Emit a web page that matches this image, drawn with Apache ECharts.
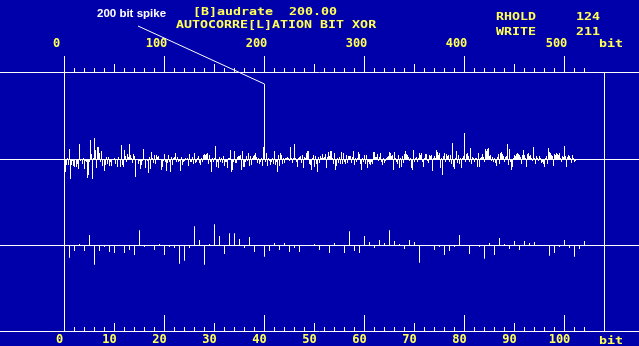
<!DOCTYPE html>
<html><head><meta charset="utf-8">
<script src="https://cdn.jsdelivr.net/npm/echarts@6/dist/echarts.min.js"></script>
<style>html,body{margin:0;padding:0;background:#0000AA}#c{width:639px;height:346px}</style>
</head><body><div id="c"></div>
<script>
// XOR autocorrelation per bit lag (lag 0..511)
const corrA = [0,-13,-6,1,-6,10,-20,-6,-2,-7,
 -8,0,-8,-5,-10,15,-2,0,-5,1,
 -10,-2,-3,-19,-16,-3,19,5,-20,1,
 21,9,-9,12,12,6,-3,8,-7,0,
 -12,-6,2,-5,2,-7,-3,-7,0,0,
 1,-5,0,-8,2,0,-8,14,-6,-8,
 9,3,-3,5,2,15,4,1,-4,5,
 3,-18,0,0,-5,-2,-10,-6,-2,10,
 0,-9,0,-2,-14,2,-10,7,1,-4,
 4,-5,4,2,3,0,0,-11,-8,-2,
 5,-3,-12,-4,4,-3,-13,2,-6,1,
 2,6,-3,2,-3,-2,-12,2,-6,-3,
 -2,1,-1,1,-7,5,-3,-3];
const corrB = [2,-5,6,-4,-3,1,3,-4,-6,1,-3,4,
 5,4,5,6,-5,4,-3,-13,1,-3,
 1,13,-8,-3,-9,2,-3,1,-4,3,
 -7,-3,-3,-9,1,1,9,-13,-11,-3,
 8,-4,-4,2,3,3,4,-11,8,-8,
 -8,-3,3,-2,6,-7,3,-6,1,3,
 4,6,2,-4,1,-5,-3,1,-7,12,
 75,-3,6,-7,1,-2,-6,-3,1,-5,
 8,-6,-3,-13,4,-7,6,4,-5,1,
 -4,1,1,2,1,-2,12,1,-4,1,
 15,1,-3,-8,1,2,3,-4,4,-9,
 2,1,6,8,8,-5,-6,-11,1,4,
 -8,3,-5,-13,2,-4];
const corrC = [3,1,5,1,2,5,-9,2,7,3,8,8,1,-5,
 6,-11,-7,1,-4,2,-5,7,-5,6,
 -3,-5,4,-4,3,3,3,-4,2,8,
 -6,1,-3,1,7,5,-5,-11,1,-3,
 4,-5,4,-9,-3,-5,-6,-3,-5,7,
 7,2,2,5,-2,2,6,-3,-6,1,
 -4,-2,1,2,3,7,6,3,4,-11,
 7,1,-3,-5,4,-9,1,-8,3,-4,
 5,8,5,4,2,-2,1,-9,-11,9,
 -3,1,2,-3,1,6,4,6,-3,-8,
 1,5,5,-2,-4,4,3,4,-12,1,
 3,1,9,7,4,6,-9,1,-16,3,
 6,-3,5,3];
const corrD = [4,-3,4,-5,16,-8,
 -10,1,8,-4,4,-5,1,-9,1,3,
 26,-3,5,6,3,-3,11,-5,2,1,
 -3,1,1,-8,6,-8,1,2,5,2,
 -3,10,8,10,11,3,4,-2,2,-3,
 1,-4,-7,2,5,-5,6,7,5,3,
 -3,2,3,15,-6,10,-3,-11,-8,1,
 4,3,5,6,5,4,2,-5,4,9,
 4,1,-8,5,6,3,4,1,-2,12,
 1,-5,3,1,-2,3,1,-4,-3,-5,
 -8,1,3,-5,11,7,6,4,3,-7,
 5,4,6,5,4,6,1,-3,3,2,
 13,3,-8,2,4,3,1,-4,4,1,
 -3,-2];
const corr = corrA.concat(corrB, corrC, corrD);
const zoomBits = 105;               // lower trace: first 105 lags, magnified
const spikeBit = 200;

// tick labels
const topLabels = [0, 100, 200, 300, 400, 500];
const bottomLabels = [0, 10, 20, 30, 40, 50, 60, 70, 80, 90, 100];
function range(a, b, s) { const r = []; for (let v = a; v <= b; v += s) r.push(v); return r; }
const topMinor = range(0, 520, 10), topMid = range(0, 500, 50);
const botMinor = range(0, 104, 2), botMid = range(0, 100, 10), botMajor = range(0, 100, 20);

const YEL = '#FFFF55', WHITE = '#FFFFFF';
const MONO = '"DejaVu Sans Mono", monospace';
const lbl = { color: YEL, fontFamily: MONO, fontWeight: 'bold', fontSize: 12 };
const off = { show: false };

// axis ranges: 1 px per bit on top (0 at x=64.5), 5 px per bit below
const TOP_MIN = -64.5, TOP_MAX = 574.5, BOT_MIN = -12.9, BOT_MAX = 114.9;
const TOP_END = 540, BOT_END = 108;   // right frame line of each trace

function xa(grid, min, max, extra) {
  return Object.assign({
    gridIndex: grid, type: 'value', min: min, max: max,
    axisLine: { show: false, onZero: false, lineStyle: { color: WHITE, width: 1 } },
    axisTick: off, axisLabel: off, splitLine: off
  }, extra);
}

const chart = echarts.init(document.getElementById('c'), null, { renderer: 'canvas' });
chart.setOption({
  backgroundColor: '#0000AA',
  animation: false,
  grid: [
    { left: 0, top: 72, width: 639, height: 174 },
    { left: 0, top: 159, width: 639, height: 174 }
  ],
  xAxis: [
    xa(0, TOP_MIN, TOP_MAX, { axisLine: { show: true, onZero: true, lineStyle: { color: WHITE } } }),
    xa(0, TOP_MIN, TOP_MAX, { position: 'top', axisLine: { show: true, onZero: false, lineStyle: { color: WHITE } },
      axisTick: { show: true, length: 4, customValues: topMinor, lineStyle: { color: WHITE } } }),
    xa(0, TOP_MIN, TOP_MAX, { position: 'top',
      axisTick: { show: true, length: 8, customValues: topMid, lineStyle: { color: WHITE } } }),
    xa(0, TOP_MIN, TOP_MAX, { position: 'top',
      axisTick: { show: true, length: 16, customValues: topLabels, lineStyle: { color: WHITE } },
      axisLabel: Object.assign({ show: true, customValues: topLabels, margin: 22, padding: [0, 16, 0, 0] }, lbl) }),
    xa(1, BOT_MIN, BOT_MAX, { axisLine: { show: true, onZero: true, lineStyle: { color: WHITE } } }),
    xa(1, BOT_MIN, BOT_MAX, { position: 'bottom', axisLine: { show: true, onZero: false, lineStyle: { color: WHITE } },
      axisTick: { show: true, inside: true, length: 4, customValues: botMinor, lineStyle: { color: WHITE } } }),
    xa(1, BOT_MIN, BOT_MAX, { position: 'bottom',
      axisTick: { show: true, inside: true, length: 8, customValues: botMid, lineStyle: { color: WHITE } } }),
    xa(1, BOT_MIN, BOT_MAX, { position: 'bottom',
      axisTick: { show: true, inside: true, length: 16, customValues: botMajor, lineStyle: { color: WHITE } },
      axisLabel: Object.assign({ show: true, customValues: bottomLabels, margin: 3, padding: [0, 10, 0, 0] }, lbl) })
  ],
  yAxis: [
    { gridIndex: 0, type: 'value', min: -87, max: 87, axisLine: { show: true, onZero: true, lineStyle: { color: WHITE } },
      axisTick: off, axisLabel: off, splitLine: off },
    { gridIndex: 1, type: 'value', min: -87, max: 87, axisLine: { show: true, onZero: true, lineStyle: { color: WHITE } },
      axisTick: off, axisLabel: off, splitLine: off }
  ],
  series: [
    { type: 'bar', xAxisIndex: 0, yAxisIndex: 0, barWidth: 1, silent: true,
      itemStyle: { color: WHITE, opacity: 1 },
      data: corr.map((v, i) => [i, v]),
      markLine: { silent: true, symbol: ['none', 'none'], label: { show: false },
        lineStyle: { color: WHITE, type: 'solid', width: 1, opacity: 1 }, emphasis: { disabled: true },
        data: [ { xAxis: TOP_END }, [ { x: 138, y: 26 }, { coord: [spikeBit, corr[spikeBit]] } ] ] } },
    { type: 'bar', xAxisIndex: 4, yAxisIndex: 1, barWidth: 1, silent: true,
      itemStyle: { color: WHITE, opacity: 1 },
      data: corr.slice(0, zoomBits).map((v, i) => [i, v]),
      markLine: { silent: true, symbol: ['none', 'none'], label: { show: false },
        lineStyle: { color: WHITE, type: 'solid', width: 1, opacity: 1 }, emphasis: { disabled: true },
        data: [ { xAxis: BOT_END } ] } }
  ],
  graphic: [
    { type: 'text', x: 193, y: 12.5, scaleY: 0.8, silent: true,
      style: { text: '[B]audrate  200.00', fill: YEL, font: 'bold 13.3px ' + MONO, verticalAlign: 'middle' } },
    { type: 'text', x: 176, y: 25.5, scaleY: 0.8, silent: true,
      style: { text: 'AUTOCORRE[L]ATION BIT XOR', fill: YEL, font: 'bold 13.3px ' + MONO, verticalAlign: 'middle' } },
    { type: 'text', x: 496, y: 17.5, scaleY: 0.8, silent: true,
      style: { text: 'RHOLD     124', fill: YEL, font: 'bold 13.3px ' + MONO, verticalAlign: 'middle' } },
    { type: 'text', x: 496, y: 32.5, scaleY: 0.8, silent: true,
      style: { text: 'WRITE     211', fill: YEL, font: 'bold 13.3px ' + MONO, verticalAlign: 'middle' } },
    { type: 'text', x: 599, y: 44, scaleY: 0.8, silent: true,
      style: { text: 'bit', fill: YEL, font: 'bold 13.3px ' + MONO, verticalAlign: 'middle' } },
    { type: 'text', x: 599, y: 341, scaleY: 0.8, silent: true,
      style: { text: 'bit', fill: YEL, font: 'bold 13.3px ' + MONO, verticalAlign: 'middle' } },
    { type: 'text', x: 97, y: 14, silent: true,
      style: { text: '200 bit spike', fill: WHITE, font: 'bold 11.5px "Liberation Sans", Arial, sans-serif', verticalAlign: 'middle' } }
  ]
});
</script></body></html>
